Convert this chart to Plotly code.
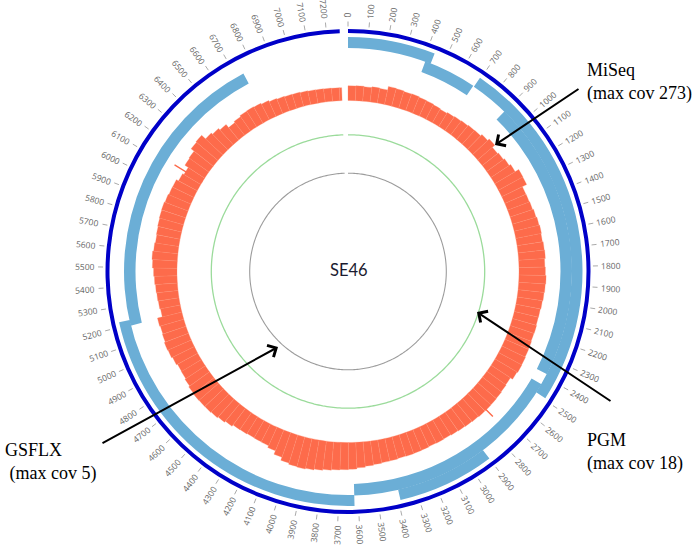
import math
import plotly.graph_objects as go

# ---------------- data ----------------
W, H = 697, 545
genome_len = 7265          # drawn length of the SE46 genome
span_len = 7305            # genome + closing gap used by the circular layout

tick_values = list(range(0, 7201, 100))
tick_labels = [str(v) for v in tick_values]

# assembly contigs (light blue track)
contig_start = [0, 410, 695, 900, 2440, 2900, 3620, 5195]
contig_end = [440, 690, 2490, 2380, 3620, 3390, 5225, 6740]
contig_level = ["outer", "inner", "outer", "inner", "inner", "outer", "outer", "inner"]

# MiSeq coverage, 50 bp bins starting at 0
cov_bin = 50
miseq_cov = [
    118, 120, 116, 122, 119, 148, 145, 140, 143, 138,
    136, 130, 125, 132, 138, 142, 148, 150, 165, 182,
    156, 165, 176, 190, 224, 222, 184, 186, 190, 198,
    205, 210, 206, 212, 215, 208, 212, 218, 214, 210,
    205, 200, 198, 202, 200, 204, 206, 210, 212, 206,
    186, 190, 194, 196, 198, 196, 192, 188, 184, 180,
    176, 178, 175, 178, 180, 182, 180, 184, 186, 190,
    196, 205, 214, 218, 222, 228, 236, 244, 250, 246,
    236, 210, 180, 164, 162, 160, 164, 166, 180, 192,
    202, 206, 208, 210, 206, 196, 188, 185, 195, 204,
    208, 200, 196, 202, 162, 168, 172, 176, 182, 188,
    198, 204, 196, 190, 194, 198, 202, 204, 198, 192,
    190, 170, 158, 190, 196, 226, 232, 190, 176, 160,
    128, 140, 150, 152, 148, 140, 130, 124, 120, 118,
    114, 110, 108, 106, 104, 104,
]
miseq_peak_pos = [2740, 6120]
miseq_peak_cov = [273, 262]
miseq_max = 273

center_label = "SE46"
track_names = ["MiSeq<br>(max cov 273)", "PGM<br>(max cov 18)", "GSFLX<br>&nbsp;(max cov 5)"]

# ---------------- geometry / styles ----------------
CX, CY = 348, 271.5
R_PX = 270
RING_BASE, RING_W = 238.5, 4.0
LEVELS = {"outer": (223.6, 10.9), "inner": (212.5, 11.5)}
COV_BASE, COV_H = 171.0, 34.0
PGM_R, GSFLX_R = 136.7, 98.3
TICK_R0, TICK_R1, LABEL_R0 = 245.0, 250.0, 253.5


def deg(p):
    return p * 360.0 / span_len


fig = go.Figure()

# outer ideogram ring
fig.add_trace(go.Barpolar(theta=[deg(genome_len / 2)], width=[deg(genome_len)],
                          base=[RING_BASE], r=[RING_W],
                          marker=dict(color="#0000C8", line=dict(width=0)),
                          hoverinfo="skip"))

# contigs
for s, e, lv in zip(contig_start, contig_end, contig_level):
    b, h = LEVELS[lv]
    fig.add_trace(go.Barpolar(theta=[deg((s + e) / 2)], width=[deg(e - s)],
                              base=[b], r=[h],
                              marker=dict(color="#6BAED6", line=dict(width=0)),
                              hoverinfo="skip"))

# MiSeq coverage histogram
starts = [i * cov_bin for i in range(len(miseq_cov))]
ends = [min(s + cov_bin, genome_len) for s in starts]
fig.add_trace(go.Barpolar(
    theta=[deg((s + e) / 2) for s, e in zip(starts, ends)],
    width=[deg(e - s) for s, e in zip(starts, ends)],
    base=[COV_BASE] * len(miseq_cov),
    r=[c / miseq_max * COV_H for c in miseq_cov],
    marker=dict(color="#FD6B4B", line=dict(width=0.3, color="#FF8A6E")),
    hoverinfo="skip"))
fig.add_trace(go.Barpolar(
    theta=[deg(p) for p in miseq_peak_pos],
    width=[deg(8)] * len(miseq_peak_pos),
    base=[COV_BASE] * len(miseq_peak_pos),
    r=[c / miseq_max * COV_H for c in miseq_peak_cov],
    marker=dict(color="#FD6B4B", line=dict(width=0)),
    hoverinfo="skip"))

# PGM and GSFLX tracks (tiny coverage -> thin circles)
n_arc = 400
arc_theta = [deg(genome_len * k / n_arc) for k in range(n_arc + 1)]
fig.add_trace(go.Scatterpolar(theta=arc_theta, r=[PGM_R] * len(arc_theta), mode="lines",
                              line=dict(color="#9BDB9B", width=1.3), hoverinfo="skip"))
fig.add_trace(go.Scatterpolar(theta=arc_theta, r=[GSFLX_R] * len(arc_theta), mode="lines",
                              line=dict(color="#9C9C9C", width=1.1), hoverinfo="skip"))

# tick marks
tt, tr = [], []
for v in tick_values:
    tt += [deg(v), deg(v), None]
    tr += [TICK_R0, TICK_R1, None]
fig.add_trace(go.Scatterpolar(theta=tt, r=tr, mode="lines",
                              line=dict(color="#AAAAAA", width=1), hoverinfo="skip"))

annotations = []


def px2paper(x, y):
    return x / W, 1 - y / H


# tick labels, rotated radially
for v, lab in zip(tick_values, tick_labels):
    th = deg(v)
    tw = len(lab) * 4.9
    rc = LABEL_R0 + tw / 2
    x = CX + rc * math.sin(math.radians(th))
    y = CY - rc * math.cos(math.radians(th))
    px, py = px2paper(x, y)
    ang = th - 90 if th <= 180 else th - 270
    annotations.append(dict(x=px, y=py, xref="paper", yref="paper", text=lab,
                            showarrow=False, textangle=ang, xanchor="center", yanchor="middle",
                            font=dict(family="Open Sans", size=8.5, color="#666666")))

# center label
px, py = px2paper(349, 270)
annotations.append(dict(x=px, y=py, xref="paper", yref="paper", text=center_label,
                        showarrow=False, xanchor="center", yanchor="middle",
                        font=dict(family="Lato", size=16.5, color="#1B1B30")))

# track name labels
serif = dict(family="Liberation Serif", size=18, color="#000000")
for (tx, ty), txt in zip([(585, 58), (585, 428), (3, 438)], track_names):
    px, py = px2paper(tx, ty)
    annotations.append(dict(x=px, y=py, xref="paper", yref="paper", text=txt,
                            showarrow=False, xanchor="left", yanchor="top", align="left",
                            font=serif))

# arrows (head, tail)
for (hx, hy), (sx, sy) in [((495, 145), (580, 88)),
                           ((477, 312), (612, 402)),
                           ((278, 347), (101, 444))]:
    px, py = px2paper(hx, hy)
    annotations.append(dict(x=px, y=py, xref="paper", yref="paper", text="",
                            showarrow=True, ax=sx - hx, ay=sy - hy,
                            arrowhead=4, arrowsize=1.3, arrowwidth=2, arrowcolor="#000000",
                            standoff=0))

fig.update_layout(
    width=W, height=H, margin=dict(l=0, r=0, t=0, b=0),
    paper_bgcolor="white", plot_bgcolor="white", showlegend=False,
    polar=dict(
        domain=dict(x=[(CX - R_PX) / W, (CX + R_PX) / W],
                    y=[(H - CY - R_PX) / H, (H - CY + R_PX) / H]),
        bgcolor="rgba(0,0,0,0)", barmode="overlay",
        radialaxis=dict(range=[0, R_PX], visible=False),
        angularaxis=dict(rotation=90, direction="clockwise", visible=False),
    ),
    annotations=annotations,
)

fig.write_html("out.html", config={"displayModeBar": False},
               post_script="document.body.style.margin='0';document.body.style.padding='0';")
